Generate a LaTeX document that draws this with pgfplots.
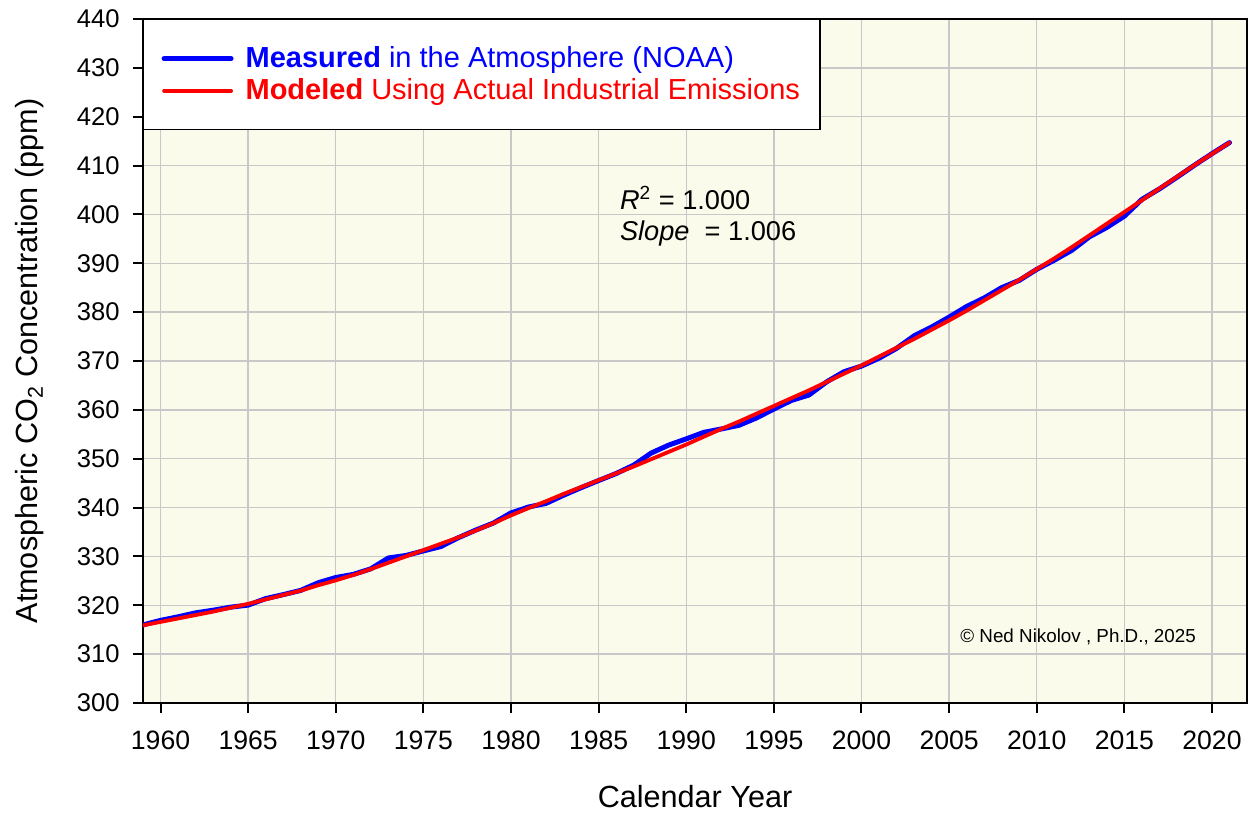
\documentclass[border=0pt]{standalone}
\usepackage{pgfplots}
\pgfplotsset{compat=1.18}
\usepackage{fontspec}
\setmainfont{Liberation Sans}
\definecolor{bgcream}{RGB}{251,251,236}
\definecolor{gridgray}{RGB}{200,200,200}

\pgfplotstableread{
year measured
1959 315.98
1960 316.91
1961 317.64
1962 318.45
1963 318.99
1964 319.62
1965 320.04
1966 321.37
1967 322.18
1968 323.05
1969 324.62
1970 325.68
1971 326.32
1972 327.46
1973 329.68
1974 330.19
1975 331.13
1976 332.03
1977 333.84
1978 335.41
1979 336.84
1980 338.91
1981 340.11
1982 340.86
1983 342.53
1984 344.07
1985 345.54
1986 346.97
1987 348.68
1988 351.16
1989 352.79
1990 354.06
1991 355.39
1992 356.09
1993 356.83
1994 358.33
1995 360.17
1996 361.93
1997 363.04
1998 365.70
1999 367.80
2000 368.96
2001 370.57
2002 372.58
2003 375.14
2004 376.95
2005 378.98
2006 381.15
2007 382.90
2008 385.02
2009 386.50
2010 388.76
2011 390.63
2012 392.65
2013 395.40
2014 397.34
2015 399.65
2016 403.07
2017 405.22
2018 407.61
2019 410.07
2020 412.44
2021 414.70
}\measured

\pgfplotstableread{
year modeled
1959 315.9
1960 316.6
1961 317.3
1962 318.0
1963 318.7
1964 319.5
1965 320.3
1966 321.2
1967 322.1
1968 323.0
1969 324.1
1970 325.1
1971 326.2
1972 327.4
1973 328.7
1974 330.0
1975 331.3
1976 332.6
1977 333.9
1978 335.3
1979 336.8
1980 338.4
1981 339.9
1982 341.3
1983 342.8
1984 344.2
1985 345.6
1986 347.0
1987 348.4
1988 349.9
1989 351.4
1990 352.9
1991 354.5
1992 356.1
1993 357.6
1994 359.2
1995 360.8
1996 362.4
1997 364.0
1998 365.7
1999 367.4
2000 369.1
2001 370.9
2002 372.7
2003 374.5
2004 376.4
2005 378.3
2006 380.3
2007 382.4
2008 384.5
2009 386.6
2010 388.8
2011 391.0
2012 393.3
2013 395.7
2014 398.1
2015 400.5
2016 402.9
2017 405.3
2018 407.7
2019 410.1
2020 412.4
2021 414.7
}\modeled

\begin{document}
\begin{tikzpicture}
\begin{axis}[
  name=ax,
  scale only axis,
  width=552pt, height=342pt,
  xmin=1959, xmax=2022,
  ymin=300, ymax=440,
  xtick={1960,1965,...,2020},
  ytick={300,310,...,440},
  /pgf/number format/assume math mode=true,
  /pgf/number format/1000 sep={},
  tick pos=left,
  tick align=outside,
  major tick length=5pt,
  tick style={black, line width=1pt},
  axis line style={black, line width=1.3pt},
  grid=major,
  major grid style={gridgray, line width=0.7pt},
  axis background/.style={fill=bgcream},
  xticklabel style={font=\fontsize{13.3}{15}\selectfont, anchor=center, yshift=-13.5pt},
  yticklabel style={font=\fontsize{12.8}{15}\selectfont, anchor=east, inner sep=0pt, xshift=-6.5pt},
  xlabel={Calendar Year},
  ylabel={Atmospheric CO\textsubscript{2} Concentration (ppm)},
  xlabel style={font=\fontsize{15.3}{18}\selectfont, at={(axis description cs:0.5,0)}, anchor=center, yshift=-47pt},
  ylabel style={font=\fontsize{15.3}{18}\selectfont, at={(axis description cs:0,0.5)}, anchor=center, yshift=56.5pt},
  legend cell align=left,
  legend style={at={(axis description cs:0,1)}, anchor=north west,
    draw=black, line width=0.6pt, fill=white,
    font=\fontsize{14.5}{17}\selectfont,
    inner xsep=9pt, inner ysep=12.5pt, row sep=2pt,
    nodes={inner sep=1pt},
    /tikz/every odd column/.append style={column sep=5pt},
    /tikz/every even column/.append style={column sep=8pt}},
  legend image code/.code={\draw[#1] (0pt,0pt) -- (33.5pt,0pt);},
]
\addplot[blue, line width=2.5pt, line join=round, line cap=round] table[x=year, y=measured] {\measured};
\addlegendentry{\textcolor{blue}{\textbf{Measured} in the Atmosphere (NOAA)}}
\addplot[red, line width=1.9pt, line join=round, line cap=round] table[x=year, y=modeled] {\modeled};
\addlegendentry{\textcolor{red}{\textbf{Modeled} Using Actual Industrial Emissions}}

\node[anchor=west, inner sep=0pt, font=\fontsize{13.6}{16}\selectfont] at (axis cs:1986.2,403.4) {\textit{R}\textsuperscript{2} = 1.000};
\node[anchor=west, inner sep=0pt, font=\fontsize{13.6}{16}\selectfont] at (axis cs:1986.2,396.2) {\textit{Slope}\ \ = 1.006};
\node[anchor=east, inner sep=0pt, font=\fontsize{9.4}{11}\selectfont] at (axis cs:2019.1,313.5) {© Ned Nikolov , Ph.D., 2025};
\end{axis}
\pgfresetboundingbox
\path[use as bounding box] ([xshift=-71.5pt,yshift=-55.5pt]ax.south west) rectangle ([xshift=2pt,yshift=9.5pt]ax.north east);
\end{tikzpicture}
\end{document}
